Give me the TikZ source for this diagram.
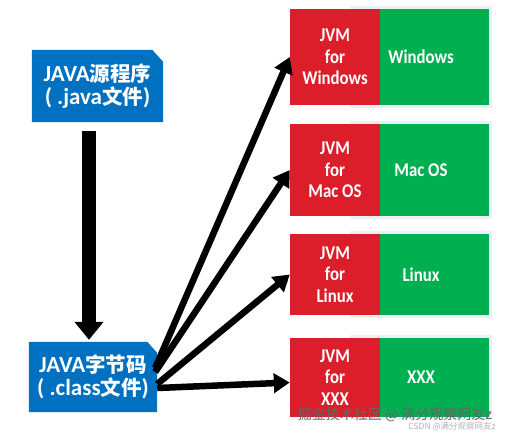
\documentclass[tikz,border=0pt]{standalone}
\usepackage{fontspec}
\setmainfont{Carlito}
\newfontfamily\narrowfont{Carlito}[FakeStretch=0.86]
\newfontfamily\cjk{Noto Sans CJK SC}
\usetikzlibrary{arrows.meta,backgrounds,calc}
\definecolor{jblue}{HTML}{0070C0}
\definecolor{jred}{HTML}{DC1E2A}
\definecolor{jgreen}{HTML}{00B050}
\definecolor{jshadow}{HTML}{ECEFF3}
\begin{document}
\begin{tikzpicture}[x=1pt,y=-1pt,
  bluebox/.style={minimum width=#1, inner sep=0pt, text=white, font=\bfseries, align=center},
  redbox/.style={fill=jred, minimum width=90pt, minimum height=#1, inner sep=0pt, text=white,
    font=\narrowfont\bfseries\fontsize{19.5}{21.5}\selectfont, align=center},
  greenbox/.style={fill=jgreen, minimum width=109pt, minimum height=#1, inner sep=0pt, anchor=west},
  gtext/.style={text=white, font=\narrowfont\bfseries\fontsize{19.5}{21}\selectfont, inner sep=0pt},
  panel/.style={fill=jshadow},
  fat/.style={line width=14pt, -{Triangle[length=18pt,width=28pt]}},
  thinarrow/.style={line width=6.5pt, -{Triangle[length=16pt,width=19pt]}},
  mark1/.style={text=black!60, font=\cjk\fontsize{14}{14}\selectfont, inner sep=0pt},
  mark2/.style={text=black!30, font=\cjk\fontsize{8.5}{9}\selectfont, inner sep=0pt}
]
\useasboundingbox (0,0) rectangle (506,437);

% blue source boxes
\node[bluebox=131pt, minimum height=72pt] (b1) at (97.5,86)
  {\fontsize{23}{25}\selectfont JAVA{\cjk\fontsize{20.5}{25}\selectfont 源程序}\\[3pt]
   \fontsize{23}{25}\selectfont ( .java{\cjk\fontsize{20.5}{25}\selectfont 文件})};
\node[bluebox=128pt, minimum height=70pt] (b2) at (93,377)
  {\fontsize{23}{25}\selectfont JAVA{\cjk\fontsize{20.5}{25}\selectfont 字节码}\\[3pt]
   \fontsize{23}{25}\selectfont ( .class{\cjk\fontsize{20.5}{25}\selectfont 文件})};
\begin{scope}[on background layer]
  \fill[jblue] (b1.south west) -- (b1.north west) -- ($(b1.north east)+(-11,0)$)
    -- ($(b1.north east)+(0,12)$) -- (b1.south east) -- cycle;
  \fill[jblue] (b2.south west) -- (b2.north west) -- ($(b2.north east)+(-10,0)$)
    -- ($(b2.north east)+(0,11)$) -- (b2.south east) -- cycle;
\end{scope}

% light panels behind the JVM rows
\fill[panel] (350,6) rectangle (492,108);
\fill[panel] (350,121) rectangle (492,219);
\fill[panel] (350,231) rectangle (492,318);
\fill[panel] (350,335) rectangle (492,420);

% JVM rows
\node[redbox=96pt] (r1) at (335,57) {JVM\\for\\Windows};
\node[greenbox=96pt] (g1) at (r1.east) {};
\node[gtext] (t1) at (421,57) {Windows};

\node[redbox=92pt] (r2) at (335,170) {JVM\\for\\Mac OS};
\node[greenbox=92pt] (g2) at (r2.east) {};
\node[gtext] (t2) at (421,170) {Mac OS};

\node[redbox=81pt] (r3) at (335,274.5) {JVM\\for\\Linux};
\node[greenbox=81pt] (g3) at (r3.east) {};
\node[gtext] (t3) at (421,274.5) {Linux};

\node[redbox=79pt] (r4) at (335,377.5) {JVM\\for\\XXX};
\node[greenbox=79pt] (g4) at (r4.east) {};
\node[gtext] (t4) at (421,377.5) {XXX};

% connectors
\draw[fat] ($(b1.south)+(-8.5,9)$) -- ($(b2.north)+(-4,-2)$);

\coordinate (s1) at ($(b2.east)+(-2,-9)$);
\coordinate (s2) at ($(b2.east)+(-2,-5)$);
\coordinate (s3) at ($(b2.east)+(0,7)$);
\coordinate (s4) at ($(b2.east)+(0,11)$);
\coordinate (e4) at ($(r4.west)+(0,5)$);
\draw[thinarrow] (s1) -- (r1.west);
\draw[thinarrow] (s2) -- (r2.west);
\draw[thinarrow] (s3) -- (r3.west);
\draw[thinarrow] (s4) -- (e4);

% watermark
\node[mark1] (w1) at (395,415) {掘金技术社区 @ 满分观察网友z};
\node[mark2] (w2) at (452,427) {CSDN @满分观察网友z};
\end{tikzpicture}
\end{document}
